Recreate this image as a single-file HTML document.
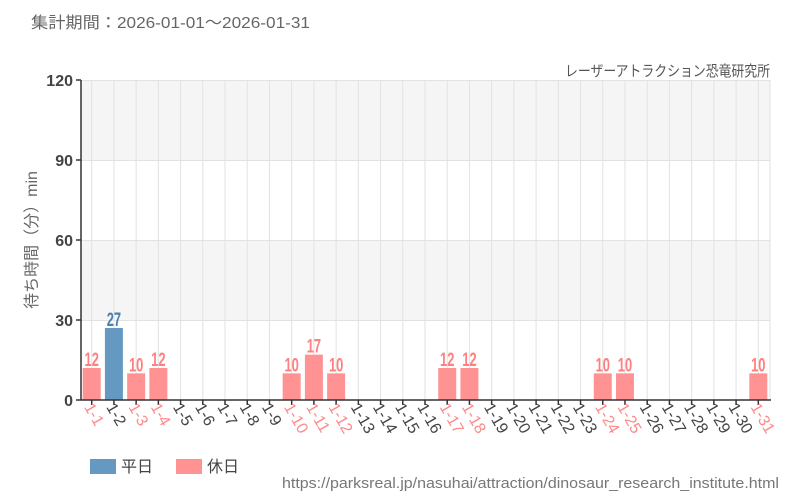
<!DOCTYPE html>
<html><head><meta charset="utf-8"><style>
html,body{margin:0;padding:0;background:#fff;}
svg{display:block;font-family:"Liberation Sans","Noto Sans CJK JP",sans-serif;}
</style></head><body>
<svg width="800" height="500" viewBox="0 0 800 500" xmlns="http://www.w3.org/2000/svg">
<text x="31" y="28" font-size="16" fill="#666" textLength="279" lengthAdjust="spacingAndGlyphs">集計期間：2026-01-01～2026-01-31</text>
<text x="565" y="76" font-size="15" fill="#555" textLength="205" lengthAdjust="spacingAndGlyphs">レーザーアトラクション恐竜研究所</text>
<rect x="81" y="80" width="689" height="80" fill="#f5f5f5"/>
<rect x="81" y="240" width="689" height="80" fill="#f5f5f5"/>
<g stroke="#e2e2e2" stroke-width="1">
<line x1="81" y1="80.5" x2="770" y2="80.5"/><line x1="81" y1="160.5" x2="770" y2="160.5"/><line x1="81" y1="240.5" x2="770" y2="240.5"/><line x1="81" y1="320.5" x2="770" y2="320.5"/>
<line x1="770" y1="80" x2="770" y2="400"/>
</g>
<g id="grid" stroke="#e2e2e2" stroke-width="1"></g>
<g id="bars"></g>
<g stroke="#333" stroke-width="1.5">
<line x1="81" y1="80" x2="81" y2="400"/><line x1="81" y1="400" x2="771" y2="400"/>
<line x1="76" y1="80" x2="81" y2="80"/><line x1="76" y1="160" x2="81" y2="160"/><line x1="76" y1="240" x2="81" y2="240"/><line x1="76" y1="320" x2="81" y2="320"/><line x1="76" y1="400" x2="81" y2="400"/>
</g>
<g font-size="16" fill="#444" text-anchor="end" font-weight="bold">
<text x="73" y="86">120</text><text x="73" y="166">90</text><text x="73" y="246">60</text><text x="73" y="326">30</text><text x="73" y="406">0</text>
</g>
<text transform="translate(37,240) rotate(-90)" font-size="16" fill="#666" text-anchor="middle">待ち時間（分）min</text>
<g id="ticks" stroke="#333" stroke-width="1.5"></g>
<g id="xl" font-size="16"></g>
<rect x="90" y="459" width="26" height="15" fill="#6699c2"/>
<text x="121" y="472" font-size="16" fill="#444">平日</text>
<rect x="176" y="459" width="26" height="15" fill="#ff9393"/>
<text x="207" y="472" font-size="16" fill="#444">休日</text>
<text x="282" y="488" font-size="15" fill="#777" textLength="497" lengthAdjust="spacingAndGlyphs">https://parksreal.jp/nasuhai/attraction/dinosaur_research_institute.html</text>
<script>
var ns="http://www.w3.org/2000/svg";
var vals={1:12,2:27,3:10,4:12,10:10,11:17,12:10,17:12,18:12,24:10,25:10,31:10};
var hol=[1,3,4,10,11,12,17,18,24,25,31];
function el(t,a,p,txt){var e=document.createElementNS(ns,t);for(var k in a)e.setAttribute(k,a[k]);if(txt)e.textContent=txt;document.getElementById(p).appendChild(e);}
for(var i=1;i<=31;i++){
 var x=91.7+(i-1)*22.22;
 el("line",{x1:x,y1:80,x2:x,y2:400},"grid");
 el("line",{x1:x,y1:400,x2:x,y2:405},"ticks");
 var h=hol.indexOf(i)>=0;
 var c=h?"#ff8a8a":"#444";
 el("text",{x:0,y:0,fill:c,transform:"translate("+(x-8)+",407) rotate(60)"},"xl","1-"+i);
 if(vals[i]){
  var v=vals[i],bh=v*80/30,bc=h?"#ff9393":"#6699c2",tc=h?"#ff8080":"#4a7fb0";
  el("rect",{x:x-9,y:400-bh,width:18,height:bh,fill:bc},"bars");
  el("text",{x:0,y:0,fill:tc,"font-size":"19","font-weight":"bold","text-anchor":"middle",transform:"translate("+x+","+(398-bh)+") scale(0.68,1)"},"bars",""+v);
 }
}
</script>
</svg>
</body></html>
